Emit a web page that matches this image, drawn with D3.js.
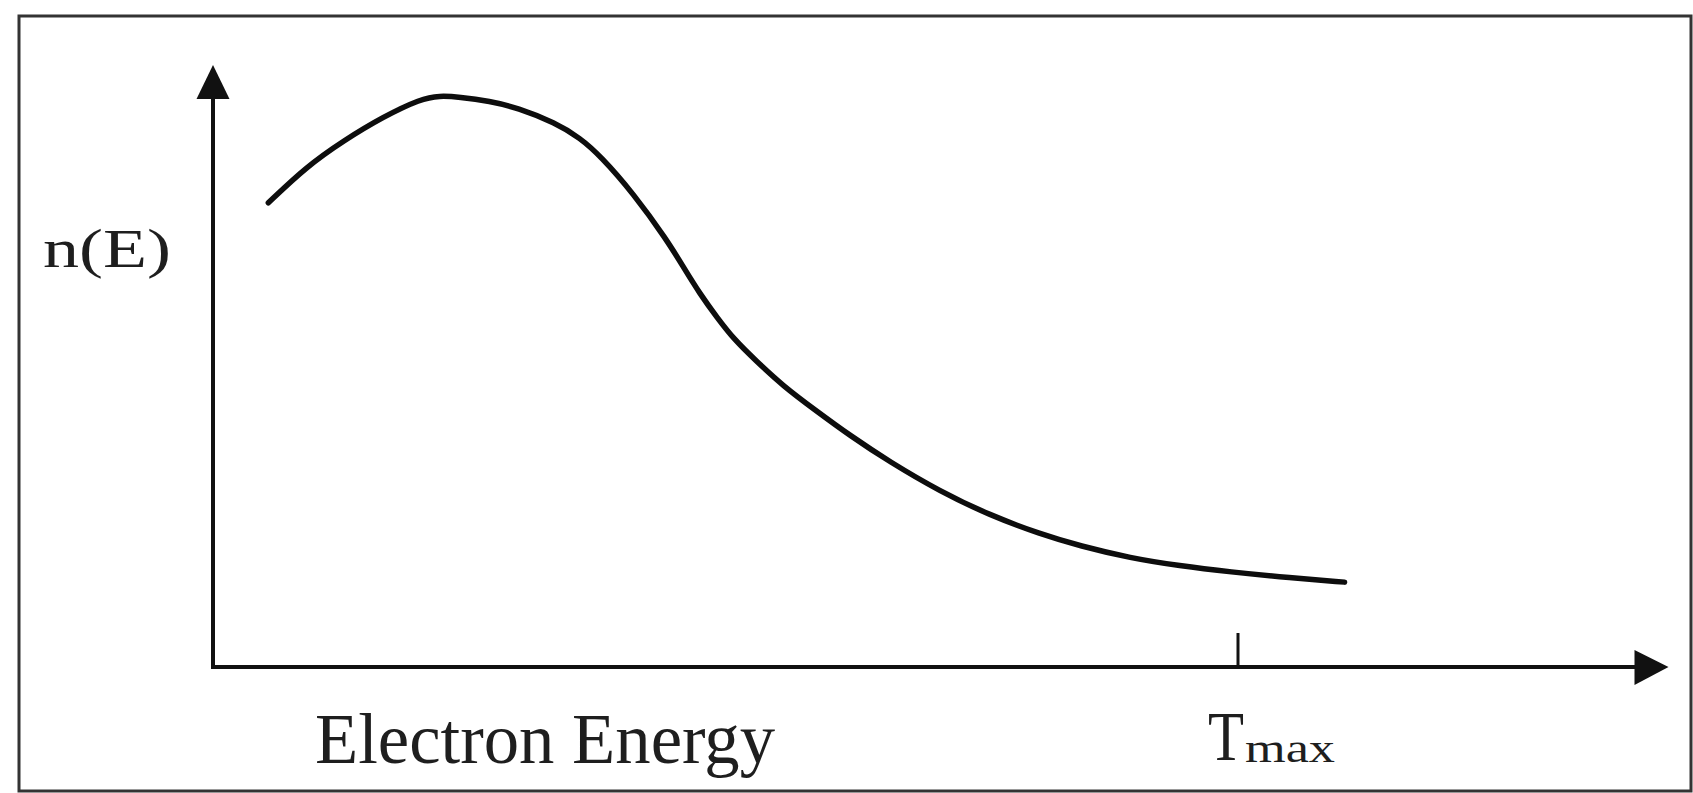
<!DOCTYPE html>
<html>
<head>
<meta charset="utf-8">
<script src="https://cdn.jsdelivr.net/npm/d3@7"></script>
<style>
  body { margin: 0; background: #fff; }
  svg { display: block; }
  text { font-family: "Liberation Serif", "Times New Roman", serif; fill: #1e1e1e; }
</style>
</head>
<body>
<script>
// energy in units of Tmax, n(E) as fraction of the axis height
var energy = [0.054, 0.091, 0.128, 0.166, 0.203, 0.221, 0.240, 0.270, 0.297, 0.334,
              0.358, 0.378, 0.410, 0.443, 0.459, 0.475, 0.492, 0.509, 0.529, 0.556,
              0.589, 0.621, 0.660, 0.709, 0.758, 0.807, 0.846, 0.895, 0.943, 0.992,
              1.051, 1.104]
var counts = [0.771, 0.831, 0.875, 0.914, 0.944, 0.949, 0.947, 0.940, 0.929, 0.904,
              0.879, 0.849, 0.787, 0.709, 0.664, 0.620, 0.580, 0.543, 0.510, 0.467,
              0.425, 0.385, 0.341, 0.292, 0.252, 0.221, 0.201, 0.181, 0.168, 0.158,
              0.148, 0.141]
var tmax = 1.0
var xAxisEnd = 1.42
var yAxisEnd = 1.0
var xLabel = "Electron Energy"
var yLabel = "n(E)"

var width = 1693, height = 793

var svg = d3.select('body').append('svg')
    .attr('width', width)
    .attr('height', height)

// outer frame
svg.append('rect')
    .attr('x', 19).attr('y', 16)
    .attr('width', 1672).attr('height', 775)
    .attr('fill', 'none')
    .attr('stroke', '#333')
    .attr('stroke-width', 3)

var x = d3.scaleLinear().domain([0, tmax]).range([213, 1238])
var y = d3.scaleLinear().domain([0, yAxisEnd]).range([667, 65])

var head = 34 // arrow head length

// x axis with arrow
svg.append('line')
    .attr('x1', x(0) - 2).attr('y1', y(0))
    .attr('x2', x(xAxisEnd) - head + 2).attr('y2', y(0))
    .attr('stroke', '#111').attr('stroke-width', 4)
svg.append('path')
    .attr('d', d3.line()([[x(xAxisEnd), y(0)], [x(xAxisEnd) - head, y(0) - 17], [x(xAxisEnd) - head, y(0) + 18]]) + 'Z')
    .attr('fill', '#111')

// y axis with arrow
svg.append('line')
    .attr('x1', x(0)).attr('y1', y(0))
    .attr('x2', x(0)).attr('y2', y(yAxisEnd) + head - 2)
    .attr('stroke', '#111').attr('stroke-width', 4)
svg.append('path')
    .attr('d', d3.line()([[x(0), y(yAxisEnd)], [x(0) - 16.5, y(yAxisEnd) + head], [x(0) + 16.5, y(yAxisEnd) + head]]) + 'Z')
    .attr('fill', '#111')

// Tmax tick
svg.append('line')
    .attr('x1', x(tmax)).attr('y1', y(0))
    .attr('x2', x(tmax)).attr('y2', y(0) - 34)
    .attr('stroke', '#111').attr('stroke-width', 3)

// spectrum curve
var pts = energy.map(function(e, i) { return [e, counts[i]] })
var line = d3.line()
    .x(function(d) { return x(d[0]) })
    .y(function(d) { return y(d[1]) })
    .curve(d3.curveBasis)

svg.append('path')
    .datum(pts)
    .attr('d', line)
    .attr('fill', 'none')
    .attr('stroke', '#0d0d0d')
    .attr('stroke-width', 5.5)
    .attr('stroke-linecap', 'round')

// labels
svg.append('text')
    .attr('x', 43).attr('y', 267)
    .attr('font-size', 54)
    .attr('textLength', 128).attr('lengthAdjust', 'spacingAndGlyphs')
    .text(yLabel)

svg.append('text')
    .attr('x', 315).attr('y', 763)
    .attr('font-size', 71)
    .attr('textLength', 460).attr('lengthAdjust', 'spacingAndGlyphs')
    .text(xLabel)

svg.append('text')
    .attr('x', 1208).attr('y', 760)
    .attr('font-size', 70)
    .attr('textLength', 36).attr('lengthAdjust', 'spacingAndGlyphs')
    .text("T")
svg.append('text')
    .attr('x', 1245).attr('y', 762)
    .attr('font-size', 40)
    .attr('textLength', 90).attr('lengthAdjust', 'spacingAndGlyphs')
    .text("max")
</script>
</body>
</html>
